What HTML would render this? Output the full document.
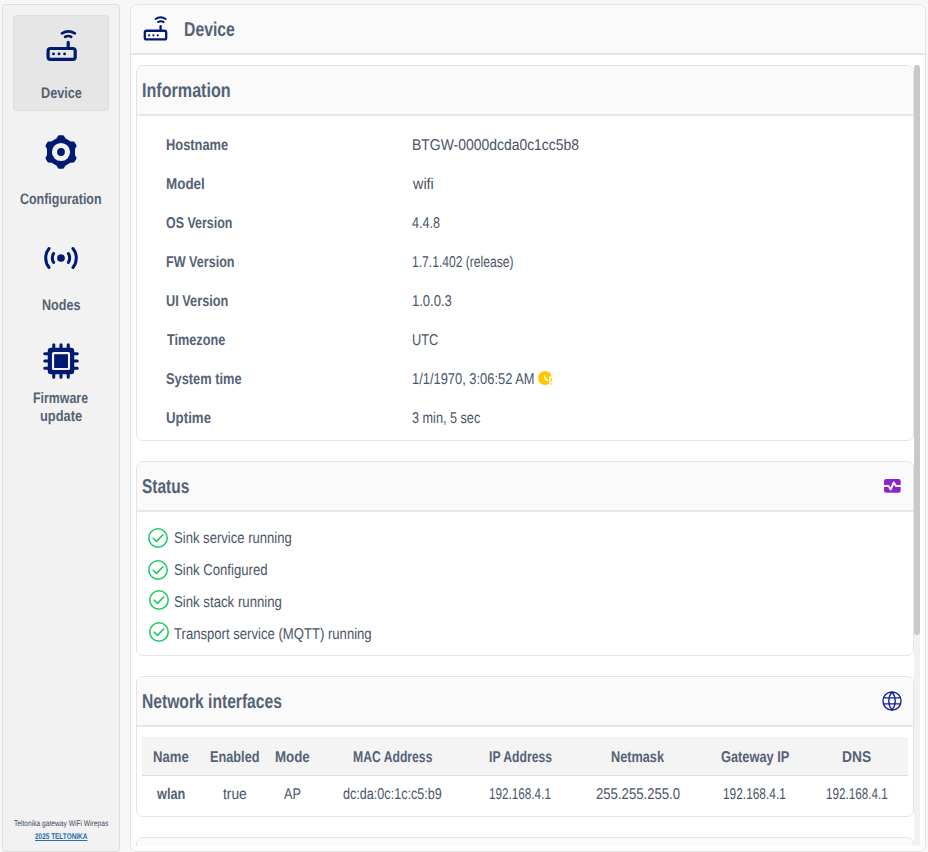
<!DOCTYPE html><html lang="en"><head><meta charset="utf-8"><title>Device</title><style>
*{margin:0;padding:0;box-sizing:border-box}
html,body{width:928px;height:852px;overflow:hidden;background:#f7f7f7;font-family:"Liberation Sans",sans-serif}
.b{position:absolute}
.t{position:absolute;white-space:nowrap;line-height:1;transform-origin:0 0;text-rendering:geometricPrecision;font-family:"Liberation Sans",sans-serif}
.ic{position:absolute;overflow:visible}
.sidebar{left:2px;top:4px;width:118px;height:848px;background:#f2f2f2;border:1px solid #dddddd;border-radius:4px}
.active{left:13px;top:15px;width:96px;height:96px;background:#e6e6e6;border:1px solid #dcdcdc;border-radius:4px}
.main{left:130px;top:4px;width:796px;height:848px;background:#fff;border:1px solid #e2e2e2;border-radius:7px;overflow:hidden}
.mhead{left:131px;top:5px;width:794px;height:50px;background:#fafafa;border-bottom:2px solid #e4e7eb;border-radius:6px 6px 0 0}
.card{left:136px;width:778px;background:#fff;border:1px solid #e4e4e4;border-radius:7px;overflow:hidden}
.chead{position:absolute;left:0;top:0;right:0;height:50px;background:#fafafa;border-bottom:2px solid #e4e7eb}
.track{left:914px;top:65px;width:6px;height:781px;background:#f1f1f1;border-radius:3px}
.thumb{left:914px;top:65px;width:6px;height:570px;background:#c9c9c9;border-radius:3px}
.thbg{left:142px;top:737px;width:766px;height:39px;background:#f4f4f4;border-bottom:1px solid #dcdcdc}
.clip{left:131px;top:55px;width:794px;height:791px;overflow:hidden}
</style></head><body>
<aside>
<div class="b sidebar"></div>
<nav>
<a class="nav"><div class="b active"></div><svg class="ic" style="left:40.00px;top:25.00px;width:44.00px;height:40.00px" viewBox="40 25 44 40"><g fill="none" stroke="#001a72" stroke-linecap="round"><rect x="48.1" y="48.5" width="27.1" height="10.9" rx="2.4" stroke-width="3.2"/><path d="M68.2 42.4V48.5" stroke-width="3.2"/><path d="M61.9 33.3Q68.3 29.5 74.9 33.3" stroke-width="2.6"/><path d="M65.1 36.9Q68.2 34.9 71.3 36.9" stroke-width="2.5"/></g><g fill="#001a72"><circle cx="53.5" cy="53.9" r="1.45"/><circle cx="59.0" cy="53.9" r="1.45"/><circle cx="64.6" cy="53.9" r="1.45"/></g></svg><div class="t" style="left:40.95px;top:86.00px;font-size:15.2px;font-weight:bold;color:#556275;transform:scaleX(0.8357);">Device</div></a>
<a class="nav"><svg class="ic" style="left:42.95px;top:133.70px;width:36.00px;height:36.00px" viewBox="-18 -18 36 36"><path d="M-3.70 -12.90L-2.00 -15.70L2.00 -15.70L3.70 -12.90L9.32 -9.65L12.60 -9.58L14.60 -6.12L13.02 -3.25L13.02 3.25L14.60 6.12L12.60 9.58L9.32 9.65L3.70 12.90L2.00 15.70L-2.00 15.70L-3.70 12.90L-9.32 9.65L-12.60 9.58L-14.60 6.12L-13.02 3.25L-13.02 -3.25L-14.60 -6.12L-12.60 -9.58L-9.32 -9.65Z" fill="#001a72" stroke="#001a72" stroke-width="2" stroke-linejoin="round"/><circle r="9.1" fill="#f2f2f2"/><circle r="3.9" fill="#001a72"/></svg><div class="t" style="left:19.98px;top:192.00px;font-size:15.2px;font-weight:bold;color:#556275;transform:scaleX(0.8194);">Configuration</div></a>
<a class="nav"><svg class="ic" style="left:42.90px;top:239.90px;width:36.00px;height:36.00px" viewBox="-18 -18 36 36"><path d="M-11.97 9.52A15.30 15.30 0 0 1 -11.97 -9.52M11.97 -9.52A15.30 15.30 0 0 1 11.97 9.52M-7.37 4.43A8.60 8.60 0 0 1 -7.37 -4.43M7.37 -4.43A8.60 8.60 0 0 1 7.37 4.43" fill="none" stroke="#001a72" stroke-width="3" stroke-linecap="round"/><circle cx="0" cy="0" r="3.85" fill="#001a72"/></svg><div class="t" style="left:41.54px;top:298.00px;font-size:15.2px;font-weight:bold;color:#556275;transform:scaleX(0.8273);">Nodes</div></a>
<a class="nav"><svg class="ic" style="left:42.95px;top:342.90px;width:36.00px;height:36.00px" viewBox="-18 -18 36 36"><rect x="-13.25" y="-13.15" width="26.5" height="26.3" rx="3.2" fill="#001a72"/><rect x="-9.05" y="-8.95" width="18.1" height="18.0" rx="1.6" fill="#f2f2f2"/><rect x="-6.85" y="-6.8" width="13.8" height="13.8" fill="#001a72"/><path d="M-7.25 -16.2V-13M-7.25 16.2V13M-16.2 -7.25H-13M16.2 -7.25H13M0.00 -16.2V-13M0.00 16.2V13M-16.2 0.00H-13M16.2 0.00H13M7.25 -16.2V-13M7.25 16.2V13M-16.2 7.25H-13M16.2 7.25H13" stroke="#001a72" stroke-width="3.1" stroke-linecap="round"/></svg><div class="t" style="left:33.02px;top:391.00px;font-size:15.2px;font-weight:bold;color:#556275;transform:scaleX(0.8146);">Firmware</div>
<div class="t" style="left:40.27px;top:409.00px;font-size:15.2px;font-weight:bold;color:#556275;transform:scaleX(0.8464);">update</div></a>
</nav>
<footer><div class="t" style="left:14.48px;top:820.00px;font-size:8.2px;font-weight:normal;color:#414b5b;transform:scaleX(0.8120);">Teltonika gateway WiFi Wirepas</div>
<div class="t" style="left:34.88px;top:833.00px;font-size:8.2px;font-weight:bold;color:#2b6cb0;transform:scaleX(0.7872);text-decoration:underline;">2025 TELTONIKA</div></footer>
</aside>
<main>
<div class="b main"></div>
<header><div class="b mhead"></div><svg class="ic" style="left:138.00px;top:10.00px;width:34.00px;height:36.00px" viewBox="138 10 34 36"><g fill="none" stroke="#001a72" stroke-linecap="round"><rect x="144.8" y="30.75" width="21.4" height="8.7" rx="1.8" stroke-width="2.3"/><path d="M160.6 26.1V30.8" stroke-width="2.3"/><path d="M155.6 19.0Q160.6 15.4 165.7 19.0" stroke-width="2.0"/><path d="M158.2 22.0Q160.85 20.6 163.5 22.0" stroke-width="2.0"/></g><g fill="#001a72"><circle cx="149.1" cy="35.3" r="1.1"/><circle cx="153.4" cy="35.3" r="1.1"/><circle cx="157.8" cy="35.3" r="1.1"/></g></svg><div class="t" style="left:184.34px;top:20.00px;font-size:20px;font-weight:bold;color:#556275;transform:scaleX(0.7880);">Device</div></header>
<div class="b track"></div>
<div class="b clip">
<div class="b card" style="left:5px;top:10px;height:376px"><div class="chead"></div></div>
<div class="b card" style="left:5px;top:406px;height:195px"><div class="chead"></div></div>
<div class="b card" style="left:5px;top:621px;height:141px"><div class="chead"></div></div>
<div class="b card" style="left:5px;top:782px;height:60px"><div class="chead"></div></div>
</div>
<div class="b thumb"></div>
<section><div class="t" style="left:142.29px;top:81.00px;font-size:20px;font-weight:bold;color:#556275;transform:scaleX(0.8060);">Information</div>
<div class="row"><div class="t" style="left:165.73px;top:138.00px;font-size:15.6px;font-weight:bold;color:#556275;transform:scaleX(0.8254);">Hostname</div>
<div class="t" style="left:411.64px;top:138.00px;font-size:15.6px;font-weight:normal;color:#4a5568;transform:scaleX(0.8936);">BTGW-0000dcda0c1cc5b8</div></div>
<div class="row"><div class="t" style="left:165.84px;top:177.00px;font-size:15.6px;font-weight:bold;color:#556275;transform:scaleX(0.8606);">Model</div>
<div class="t" style="left:412.80px;top:177.00px;font-size:15.6px;font-weight:normal;color:#4a5568;transform:scaleX(0.9219);">wifi</div></div>
<div class="row"><div class="t" style="left:166.37px;top:216.00px;font-size:15.6px;font-weight:bold;color:#556275;transform:scaleX(0.7977);">OS Version</div>
<div class="t" style="left:412.02px;top:216.00px;font-size:15.6px;font-weight:normal;color:#4a5568;transform:scaleX(0.8044);">4.4.8</div></div>
<div class="row"><div class="t" style="left:166.14px;top:255.00px;font-size:15.6px;font-weight:bold;color:#556275;transform:scaleX(0.8073);">FW Version</div>
<div class="t" style="left:412.26px;top:255.00px;font-size:15.6px;font-weight:normal;color:#4a5568;transform:scaleX(0.7752);">1.7.1.402 (release)</div></div>
<div class="row"><div class="t" style="left:166.14px;top:294.00px;font-size:15.6px;font-weight:bold;color:#556275;transform:scaleX(0.8183);">UI Version</div>
<div class="t" style="left:412.05px;top:294.00px;font-size:15.6px;font-weight:normal;color:#4a5568;transform:scaleX(0.8357);">1.0.0.3</div></div>
<div class="row"><div class="t" style="left:166.91px;top:333.00px;font-size:15.6px;font-weight:bold;color:#556275;transform:scaleX(0.8134);">Timezone</div>
<div class="t" style="left:411.99px;top:333.00px;font-size:15.6px;font-weight:normal;color:#4a5568;transform:scaleX(0.8201);">UTC</div></div>
<div class="row"><div class="t" style="left:166.34px;top:372.00px;font-size:15.6px;font-weight:bold;color:#556275;transform:scaleX(0.8220);">System time</div>
<div class="t" style="left:412.03px;top:372.00px;font-size:15.6px;font-weight:normal;color:#4a5568;transform:scaleX(0.8262);">1/1/1970, 3:06:52 AM</div><svg class="ic" style="left:535.80px;top:369.00px;width:18.00px;height:18.00px" viewBox="-9 -9 18 18"><path d="M6.84 -1.5A7 7 0 1 0 4.1 5.67L4.1 -1.5Z" fill="#ffc800"/><path d="M-0.2 -2.4V0.5L2.6 2.5" fill="none" stroke="#fff" stroke-width="1.3" stroke-linecap="round" stroke-linejoin="round"/><rect x="5.3" y="0.1" width="1.8" height="3.7" fill="#ffd23a"/><rect x="5.3" y="5.2" width="1.8" height="1.5" fill="#ffd23a"/></svg></div>
<div class="row"><div class="t" style="left:166.25px;top:411.00px;font-size:15.6px;font-weight:bold;color:#556275;transform:scaleX(0.8526);">Uptime</div>
<div class="t" style="left:412.26px;top:411.00px;font-size:15.6px;font-weight:normal;color:#4a5568;transform:scaleX(0.8114);">3 min, 5 sec</div></div>
</section>
<section><div class="t" style="left:141.81px;top:477.00px;font-size:20px;font-weight:bold;color:#556275;transform:scaleX(0.7734);">Status</div><svg class="ic" style="left:883.60px;top:479.00px;width:16.70px;height:13.80px" viewBox="0 0 16.7 13.8"><rect x="0" y="0" width="16.7" height="13.8" rx="2.2" fill="#8d24cc"/><path d="M-1 7H4.4L6.7 10.4L9.8 3.5L11.9 7H18" fill="none" stroke="#fafafa" stroke-width="2" stroke-linejoin="round"/></svg>
<div class="row"><svg class="ic" style="left:146.95px;top:526.90px;width:22.00px;height:22.00px" viewBox="-11 -11 22 22"><circle cx="0" cy="0" r="9.2" fill="none" stroke="#1fc862" stroke-width="1.55"/><path d="M-4.7 0.2L-1.45 3.4L4.7 -3.0" fill="none" stroke="#1fc862" stroke-width="1.6" stroke-linecap="round" stroke-linejoin="round"/></svg><div class="t" style="left:173.83px;top:531.00px;font-size:15.6px;font-weight:normal;color:#4a5568;transform:scaleX(0.8390);">Sink service running</div></div>
<div class="row"><svg class="ic" style="left:146.95px;top:558.95px;width:22.00px;height:22.00px" viewBox="-11 -11 22 22"><circle cx="0" cy="0" r="9.2" fill="none" stroke="#1fc862" stroke-width="1.55"/><path d="M-4.7 0.2L-1.45 3.4L4.7 -3.0" fill="none" stroke="#1fc862" stroke-width="1.6" stroke-linecap="round" stroke-linejoin="round"/></svg><div class="t" style="left:174.12px;top:563.00px;font-size:15.6px;font-weight:normal;color:#4a5568;transform:scaleX(0.8432);">Sink Configured</div></div>
<div class="row"><svg class="ic" style="left:147.95px;top:588.80px;width:22.00px;height:22.00px" viewBox="-11 -11 22 22"><circle cx="0" cy="0" r="9.2" fill="none" stroke="#1fc862" stroke-width="1.55"/><path d="M-4.7 0.2L-1.45 3.4L4.7 -3.0" fill="none" stroke="#1fc862" stroke-width="1.6" stroke-linecap="round" stroke-linejoin="round"/></svg><div class="t" style="left:174.08px;top:595.00px;font-size:15.6px;font-weight:normal;color:#4a5568;transform:scaleX(0.8473);">Sink stack running</div></div>
<div class="row"><svg class="ic" style="left:147.95px;top:621.00px;width:22.00px;height:22.00px" viewBox="-11 -11 22 22"><circle cx="0" cy="0" r="9.2" fill="none" stroke="#1fc862" stroke-width="1.55"/><path d="M-4.7 0.2L-1.45 3.4L4.7 -3.0" fill="none" stroke="#1fc862" stroke-width="1.6" stroke-linecap="round" stroke-linejoin="round"/></svg><div class="t" style="left:173.94px;top:627.00px;font-size:15.6px;font-weight:normal;color:#4a5568;transform:scaleX(0.8407);">Transport service (MQTT) running</div></div>
</section>
<section><div class="t" style="left:142.36px;top:692.00px;font-size:20px;font-weight:bold;color:#556275;transform:scaleX(0.7818);">Network interfaces</div><svg class="ic" style="left:881.10px;top:690.00px;width:22.00px;height:22.00px" viewBox="-11 -11 22 22"><g fill="none" stroke="#14248a" stroke-width="1.35"><circle cx="0" cy="0" r="9.05"/><path d="M0 -9.05A14.3 14.3 0 0 0 0 9.05A14.3 14.3 0 0 0 0 -9.05"/><path d="M-8.6 -3.1H8.6M-8.6 2.9H8.6"/></g></svg>
<div class="b thbg"></div>
<div class="row"><div class="t" style="left:153.32px;top:750.00px;font-size:15.6px;font-weight:bold;color:#556275;transform:scaleX(0.8417);">Name</div>
<div class="t" style="left:209.69px;top:750.00px;font-size:15.6px;font-weight:bold;color:#556275;transform:scaleX(0.8159);">Enabled</div>
<div class="t" style="left:275.09px;top:750.00px;font-size:15.6px;font-weight:bold;color:#556275;transform:scaleX(0.8534);">Mode</div>
<div class="t" style="left:353.08px;top:750.00px;font-size:15.6px;font-weight:bold;color:#556275;transform:scaleX(0.7811);">MAC Address</div>
<div class="t" style="left:489.12px;top:750.00px;font-size:15.6px;font-weight:bold;color:#556275;transform:scaleX(0.7830);">IP Address</div>
<div class="t" style="left:611.26px;top:750.00px;font-size:15.6px;font-weight:bold;color:#556275;transform:scaleX(0.8152);">Netmask</div>
<div class="t" style="left:720.55px;top:750.00px;font-size:15.6px;font-weight:bold;color:#556275;transform:scaleX(0.8219);">Gateway IP</div>
<div class="t" style="left:841.90px;top:750.00px;font-size:15.6px;font-weight:bold;color:#556275;transform:scaleX(0.8835);">DNS</div></div>
<div class="row"><div class="t" style="left:157.35px;top:787.00px;font-size:15.6px;font-weight:bold;color:#556275;transform:scaleX(0.8155);">wlan</div>
<div class="t" style="left:223.40px;top:787.00px;font-size:15.6px;font-weight:normal;color:#4a5568;transform:scaleX(0.8849);">true</div>
<div class="t" style="left:284.35px;top:787.00px;font-size:15.6px;font-weight:normal;color:#4a5568;transform:scaleX(0.8172);">AP</div>
<div class="t" style="left:343.39px;top:787.00px;font-size:15.6px;font-weight:normal;color:#4a5568;transform:scaleX(0.8080);">dc:da:0c:1c:c5:b9</div>
<div class="t" style="left:489.43px;top:787.00px;font-size:15.6px;font-weight:normal;color:#4a5568;transform:scaleX(0.7516);">192.168.4.1</div>
<div class="t" style="left:595.91px;top:787.00px;font-size:15.6px;font-weight:normal;color:#4a5568;transform:scaleX(0.8427);">255.255.255.0</div>
<div class="t" style="left:723.37px;top:787.00px;font-size:15.6px;font-weight:normal;color:#4a5568;transform:scaleX(0.7624);">192.168.4.1</div>
<div class="t" style="left:825.87px;top:787.00px;font-size:15.6px;font-weight:normal;color:#4a5568;transform:scaleX(0.7493);">192.168.4.1</div></div>
</section>
</main>
</body></html>
